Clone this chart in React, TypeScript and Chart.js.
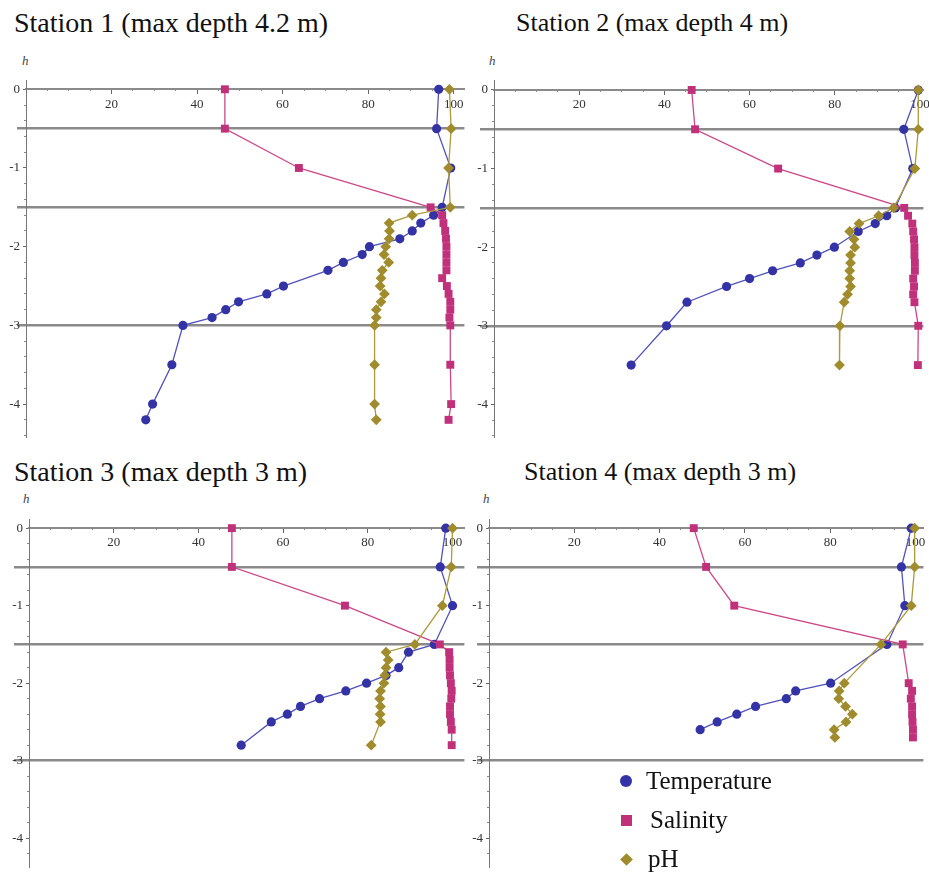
import React, { useEffect, useRef } from "react";
import { Chart, registerables } from "chart.js";

Chart.register(...registerables);

// ---------------- data ----------------
const seriesNames = ["Temperature", "Salinity", "pH"];

const xMajorTicks = [20, 40, 60, 80, 100];
const xMinorTicks = [5, 10, 15, 25, 30, 35, 45, 50, 55, 65, 70, 75, 85, 90, 95];
const yMajorTicks = [0, -1, -2, -3, -4];
const yMinorTicks = [-0.2, -0.4, -0.6, -0.8, -1.2, -1.4, -1.6, -1.8, -2.2, -2.4, -2.6, -2.8, -3.2, -3.4, -3.6, -3.8, -4.2, -4.4];
const refLines = [-0.5, -1.5, -3];

// Station 1
const s1Depth = [0, -0.5, -1, -1.5, -1.6, -1.7, -1.8, -1.9, -2.0, -2.1, -2.2, -2.3, -2.4, -2.5, -2.6, -2.7, -2.8, -2.9, -3.0, -3.5, -4.0, -4.2];
const s1Temp = [96.5, 96.0, 99.3, 97.3, 95.3, 92.3, 90.3, 87.4, 80.3, 78.6, 74.2, 70.6, null, 60.2, 56.3, 49.7, 46.7, 43.5, 36.7, 34.1, 29.6, 28.0];
const s1Sal = [46.5, 46.5, 63.8, 94.6, 97.3, 97.6, 98.0, 98.2, 98.3, 98.3, 98.3, 98.3, 97.3, 98.4, 98.8, 99.2, 99.2, 99.0, 99.2, 99.2, 99.4, 98.8];
const s1PH = [99.0, 99.4, 98.8, 99.2, 90.3, 84.9, 85.0, 84.9, 84.1, 83.7, 84.8, 83.3, 83.0, 82.8, 83.8, 83.0, 81.9, 81.9, 81.5, 81.5, 81.5, 81.9];

// Station 2
const s2Depth = [0, -0.5, -1, -1.5, -1.6, -1.7, -1.8, -1.9, -2.0, -2.1, -2.2, -2.3, -2.4, -2.5, -2.6, -2.7, -3.0, -3.5];
const s2Temp = [99.6, 96.2, 98.3, 94.2, 92.2, 89.5, 85.5, null, 79.9, 75.8, 71.9, 65.4, 60.0, 54.6, null, 45.3, 40.5, 32.2];
const s2Sal = [46.4, 47.2, 66.7, 96.3, 97.2, 98.2, 98.4, 98.6, 98.7, 98.7, 98.8, 98.8, 98.4, 98.6, 98.4, 98.7, 99.6, 99.5];
const s2PH = [99.6, 99.6, 98.8, 93.8, 90.3, 85.7, 83.5, 84.5, 84.7, 83.7, 83.7, 83.5, 83.5, 83.7, 83.0, 82.2, 81.2, 81.1];

// Station 3
const s3Depth = [0, -0.5, -1, -1.5, -1.6, -1.7, -1.8, -1.9, -2.0, -2.1, -2.2, -2.3, -2.4, -2.5, -2.6, -2.8];
const s3Temp = [98.4, 97.1, 100.0, 95.7, 89.6, null, 87.3, 84.3, 79.7, 74.8, 68.6, 64.1, 61.0, 57.2, null, 50.1];
const s3Sal = [47.9, 47.9, 74.6, 97.0, 99.2, 99.3, 99.3, 99.4, 99.6, 99.8, 99.7, 99.4, 99.4, 99.6, 99.8, 99.8];
const s3PH = [100.0, 99.7, 97.6, 91.1, 84.3, 84.8, 84.3, 84.0, 83.8, 83.0, 82.8, 83.0, 82.9, 83.0, null, 80.8];

// Station 4
const s4Depth = [0, -0.5, -1, -1.5, -2.0, -2.1, -2.2, -2.3, -2.4, -2.5, -2.6, -2.7];
const s4Temp = [99.0, 96.7, 97.5, 93.3, 80.1, 71.9, 69.7, 62.5, 58.1, 53.5, 49.5, null];
const s4Sal = [48.0, 50.9, 57.5, 97.0, 98.4, 99.2, 98.9, 99.2, 99.2, 99.3, 99.4, 99.4];
const s4PH = [99.8, 99.8, 99.0, 91.9, 83.3, 82.1, 82.0, 83.6, 85.2, 83.7, 80.9, 81.1];

// ---------------- styles ----------------
const COLORS = ["#3333a6", "#c1307a", "#a08c2c"];
const LINE_COLORS = ["#5252bd", "#cd4888", "#ad9a3c"];
const SERIF = "'Liberation Serif', 'Times New Roman', serif";

type Panel = {
  title: string;
  depth: number[];
  temp: (number | null)[];
  sal: (number | null)[];
  ph: (number | null)[];
  left: number;
  top: number;
  width: number;
  height: number;
  padBottom: number;
  xMax: number;
  yMin: number;
  yMax: number;
  ext: number;
};

const panels: Panel[] = [
  { title: "Station 1 (max depth 4.2 m)", depth: s1Depth, temp: s1Temp, sal: s1Sal, ph: s1PH,
    left: 0, top: 70, width: 470, height: 377, padBottom: 10, xMax: 102.5, yMin: -4.418, yMax: 0.118, ext: 9 },
  { title: "Station 2 (max depth 4 m)", depth: s2Depth, temp: s2Temp, sal: s2Sal, ph: s2PH,
    left: 468, top: 70, width: 461, height: 377, padBottom: 10, xMax: 100.8, yMin: -4.415, yMax: 0.127, ext: 14 },
  { title: "Station 3 (max depth 3 m)", depth: s3Depth, temp: s3Temp, sal: s3Sal, ph: s3PH,
    left: 3, top: 509, width: 467, height: 364, padBottom: 0, xMax: 102.8, yMin: -4.377, yMax: 0.118, ext: 15 },
  { title: "Station 4 (max depth 3 m)", depth: s4Depth, temp: s4Temp, sal: s4Sal, ph: s4PH,
    left: 463, top: 509, width: 466, height: 364, padBottom: 0, xMax: 101.85, yMin: -4.377, yMax: 0.118, ext: 12 },
];

function makePoints(depth: number[], vals: (number | null)[]) {
  const pts: { x: number; y: number }[] = [];
  depth.forEach((d, i) => {
    const v = vals[i];
    if (v !== null && v !== undefined) pts.push({ x: v, y: d });
  });
  return pts;
}

function StationChart({ p }: { p: Panel }) {
  const ref = useRef<HTMLCanvasElement>(null);
  useEffect(() => {
    const canvas = ref.current;
    if (!canvas) return;
    const setTicks = (vals: number[]) => (scale: any) => {
      scale.ticks = vals
        .filter((v) => v >= scale.min - 1e-9 && v <= scale.max + 1e-9)
        .map((v) => ({ value: v }));
    };
    const noPad = (scale: any) => {
      scale.paddingLeft = 0;
      scale.paddingRight = 0;
      scale.paddingTop = 0;
      scale.paddingBottom = 0;
    };
    const font = { family: SERIF, size: 13 };
    const styles: any[] = [
      { pointStyle: "circle", pointRadius: 4.6, order: 2 },
      { pointStyle: "rect", pointRadius: 5.6, order: 1 },
      { pointStyle: "rectRot", pointRadius: 5.4, order: 0 },
    ];
    const series = [p.temp, p.sal, p.ph];
    const chart = new Chart(canvas, {
      type: "line",
      data: {
        datasets: series.map((vals, i) => ({
          label: seriesNames[i],
          data: makePoints(p.depth, vals),
          borderColor: LINE_COLORS[i],
          backgroundColor: COLORS[i],
          pointBackgroundColor: COLORS[i],
          pointBorderColor: COLORS[i],
          pointBorderWidth: 0,
          borderWidth: 1.3,
          tension: 0,
          fill: false,
          clip: false,
          ...styles[i],
        })),
      },
      options: {
        animation: false,
        responsive: false,
        maintainAspectRatio: false,
        events: [],
        layout: { padding: { top: 10, bottom: p.padBottom, left: 0, right: 0 } },
        plugins: { legend: { display: false }, tooltip: { enabled: false }, title: { display: false } },
        scales: {
          x: {
            type: "linear",
            axis: "x",
            position: { y: 0 },
            min: 0,
            max: p.xMax,
            afterBuildTicks: setTicks(xMajorTicks),
            afterFit: noPad,
            grid: { drawOnChartArea: false, drawTicks: true, tickLength: 4, color: "#666", lineWidth: 1 },
            border: { display: true, color: "#8a8a8a", width: 2 },
            ticks: { padding: 3, font, color: "#333", maxRotation: 0, autoSkip: false, callback: (v: any) => String(v) },
          },
          x2: {
            type: "linear",
            axis: "x",
            position: { y: 0 },
            min: 0,
            max: p.xMax,
            afterBuildTicks: setTicks(xMinorTicks),
            afterFit: noPad,
            grid: { drawOnChartArea: false, drawTicks: true, tickLength: 2, color: "#888", lineWidth: 1 },
            border: { display: false },
            ticks: { display: false },
          },
          y: {
            type: "linear",
            axis: "y",
            position: "left",
            min: p.yMin,
            max: p.yMax,
            afterBuildTicks: setTicks(yMajorTicks),
            afterFit: (s: any) => {
              s.width = 26;
              noPad(s);
            },
            grid: { drawOnChartArea: false, drawTicks: true, tickLength: 3, color: "#666", lineWidth: 1 },
            border: { display: true, color: "#777", width: 1 },
            ticks: { padding: 3, font, color: "#333", autoSkip: false, callback: (v: any) => String(v) },
          },
          y2: {
            type: "linear",
            axis: "y",
            position: { x: 0 },
            min: p.yMin,
            max: p.yMax,
            afterBuildTicks: setTicks(yMinorTicks),
            afterFit: noPad,
            grid: { drawOnChartArea: false, drawTicks: true, tickLength: 2, color: "#888", lineWidth: 1 },
            border: { display: false },
            ticks: { display: false },
          },
          yg: {
            type: "linear",
            axis: "y",
            position: { x: 0 },
            min: p.yMin,
            max: p.yMax,
            afterBuildTicks: setTicks(refLines),
            afterFit: noPad,
            grid: { drawOnChartArea: true, drawTicks: true, tickLength: p.ext, color: "#8a8a8a", lineWidth: 2.5 },
            border: { display: false },
            ticks: { display: false },
          },
        },
      } as any,
    });
    return () => chart.destroy();
  }, [p]);
  return (
    <canvas
      ref={ref}
      width={p.width}
      height={p.height}
      style={{ position: "absolute", left: p.left, top: p.top, width: p.width, height: p.height }}
    />
  );
}

const titlePos = [
  { left: 14, top: 9, size: 28 },
  { left: 516, top: 10, size: 26 },
  { left: 14, top: 458, size: 28 },
  { left: 524, top: 459, size: 26 },
];
const hPos = [
  { left: 22, top: 53 },
  { left: 489, top: 53 },
  { left: 23, top: 491 },
  { left: 483, top: 491 },
];
const legendRows = [
  { cy: 781, textLeft: 646 },
  { cy: 820, textLeft: 650 },
  { cy: 859, textLeft: 648 },
];

function Marker({ i }: { i: number }) {
  const c = COLORS[i];
  if (i === 0) return <div style={{ width: 12, height: 12, borderRadius: "50%", background: c }} />;
  if (i === 1) return <div style={{ width: 11, height: 11, background: c }} />;
  return <div style={{ width: 9, height: 9, background: c, transform: "rotate(45deg)" }} />;
}

export default function App() {
  return (
    <div
      style={{
        position: "absolute",
        left: 0,
        top: 0,
        width: 929,
        height: 873,
        overflow: "hidden",
        background: "#fff",
        fontFamily: SERIF,
      }}
    >
      {panels.map((p, i) => (
        <div
          key={"t" + i}
          style={{
            position: "absolute",
            left: titlePos[i].left,
            top: titlePos[i].top,
            fontSize: titlePos[i].size,
            lineHeight: titlePos[i].size + "px",
            whiteSpace: "nowrap",
            color: "#111",
          }}
        >
          {p.title}
        </div>
      ))}
      {hPos.map((h, i) => (
        <div
          key={"h" + i}
          style={{ position: "absolute", left: h.left, top: h.top, fontSize: 13, lineHeight: "16px", fontStyle: "italic", color: "#444" }}
        >
          h
        </div>
      ))}
      {panels.map((p, i) => (
        <StationChart key={"c" + i} p={p} />
      ))}
      {legendRows.map((r, i) => (
        <div
          key={"l" + i}
          style={{ position: "absolute", left: 619, top: r.cy - 15, height: 30, display: "flex", alignItems: "center" }}
        >
          <div style={{ width: 14, display: "flex", justifyContent: "center", alignItems: "center" }}>
            <Marker i={i} />
          </div>
          <div
            style={{
              position: "absolute",
              left: r.textLeft - 619,
              top: 0,
              fontSize: 25,
              lineHeight: "30px",
              whiteSpace: "nowrap",
              color: "#111",
            }}
          >
            {seriesNames[i]}
          </div>
        </div>
      ))}
    </div>
  );
}
